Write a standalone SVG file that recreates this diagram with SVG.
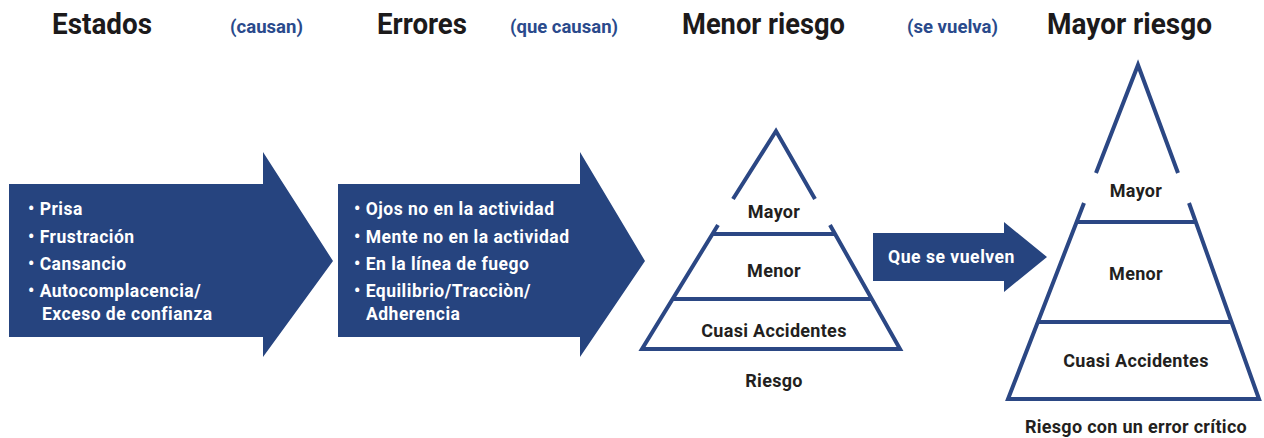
<svg xmlns="http://www.w3.org/2000/svg" width="1264" height="438" viewBox="0 0 1264 438">
<style>
.hdr{font-family:Roboto,"Liberation Sans",sans-serif;font-weight:700;font-size:29px;fill:#1c1a1b}
.sub{font-family:Roboto,"Liberation Sans",sans-serif;font-weight:700;font-size:19px;fill:#2a4a8c}
.blt{font-family:Roboto,"Liberation Sans",sans-serif;font-weight:700;font-size:17.5px;letter-spacing:0.5px;fill:#ffffff}
.pt{font-family:Roboto,"Liberation Sans",sans-serif;font-weight:700;font-size:18px;letter-spacing:0.3px;fill:#231f20;text-anchor:middle}
.arr{fill:#26447f}
.pyr{fill:none;stroke:#2b4784;stroke-width:4;stroke-linejoin:miter}
</style>
<rect width="1264" height="438" fill="#ffffff"/>
<g id="headers">
<text class="hdr" x="52" y="34" textLength="100" lengthAdjust="spacingAndGlyphs">Estados</text>
<text class="sub" x="230" y="33" textLength="73" lengthAdjust="spacingAndGlyphs">(causan)</text>
<text class="hdr" x="377" y="34" textLength="90" lengthAdjust="spacingAndGlyphs">Errores</text>
<text class="sub" x="510" y="33" textLength="108" lengthAdjust="spacingAndGlyphs">(que causan)</text>
<text class="hdr" x="682" y="34" textLength="163" lengthAdjust="spacingAndGlyphs">Menor riesgo</text>
<text class="sub" x="907" y="33" textLength="91" lengthAdjust="spacingAndGlyphs">(se vuelva)</text>
<text class="hdr" x="1047" y="34" textLength="165" lengthAdjust="spacingAndGlyphs">Mayor riesgo</text>
</g>
<g id="connectors">
<g id="arrow-estados">
<polygon class="arr" points="9,184 263,184 263,152 333,261 263,357 263,337 9,337"/>
<text class="blt" x="28" y="215">• Prisa</text>
<text class="blt" x="28" y="243">• Frustración</text>
<text class="blt" x="28" y="270">• Cansancio</text>
<text class="blt" x="28" y="297">• Autocomplacencia/</text>
<text class="blt" x="42" y="320">Exceso de confianza</text>
</g>
<g id="arrow-errores">
<polygon class="arr" points="338,184 580,184 580,152 645,261 580,357 580,337 338,337"/>
<text class="blt" x="354" y="215">• Ojos no en la actividad</text>
<text class="blt" x="354" y="243">• Mente no en la actividad</text>
<text class="blt" x="354" y="270">• En la línea de fuego</text>
<text class="blt" x="354" y="297">• Equilibrio/Tracciòn/</text>
<text class="blt" x="366" y="320">Adherencia</text>
</g>
<g id="arrow-vuelven">
<polygon class="arr" points="873,233 1004,233 1004,222 1047,257 1004,292 1004,281 873,281"/>
<text class="blt" x="888" y="263" font-size="17" textLength="127" lengthAdjust="spacingAndGlyphs">Que se vuelven</text>
</g>
</g>
<g id="pyramid-menor">
<polyline class="pyr" points="733,199 776,131 815,199"/>
<polyline class="pyr" points="718,225 642,349 900,349 830,225"/>
<line class="pyr" x1="712" y1="234" x2="835" y2="234"/>
<line class="pyr" x1="672" y1="299" x2="872" y2="299"/>
<text class="pt" x="774" y="218">Mayor</text>
<text class="pt" x="774" y="277">Menor</text>
<text class="pt" x="774" y="337">Cuasi Accidentes</text>
<text class="pt" x="774" y="387">Riesgo</text>
</g>
<g id="pyramid-mayor">
<polyline class="pyr" points="1096,173 1138,65 1178,173"/>
<polyline class="pyr" points="1084,203 1008,399 1259,399 1189,203"/>
<line class="pyr" x1="1077" y1="222" x2="1196" y2="222"/>
<line class="pyr" x1="1038" y1="322" x2="1232" y2="322"/>
<text class="pt" x="1136" y="197">Mayor</text>
<text class="pt" x="1136" y="280">Menor</text>
<text class="pt" x="1136" y="367">Cuasi Accidentes</text>
<text class="pt" x="1136" y="433">Riesgo con un error crítico</text>
</g>
</svg>
